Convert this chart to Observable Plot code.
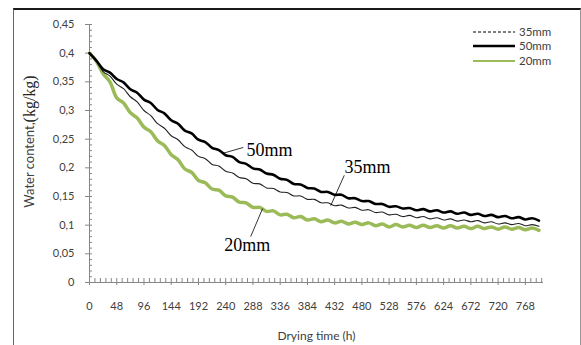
<!DOCTYPE html>
<html><head><meta charset="utf-8">
<script src="https://cdn.jsdelivr.net/npm/d3@7"></script>
<script src="https://cdn.jsdelivr.net/npm/@observablehq/plot@0.6"></script>
<style>
html,body{margin:0;padding:0;background:#fff;}
#wrap{position:relative;width:581px;height:345px;overflow:hidden;background:#fff;}
#frame{position:absolute;left:13px;top:8px;width:568px;height:360px;border-top:2px solid #1a1a1a;border-left:1px solid #666;border-right:1px solid #999;box-sizing:border-box;pointer-events:none;}
</style></head><body>
<div id="wrap"><div id="chart"></div><div id="frame"></div></div>
<script>
// Sampling times (h), every 12 h
const hours = d3.range(0, 793, 12);

// Water content (kg/kg) per thickness
const w50 = [.400,.387,.372,.366,.355,.349,.337,.331,.319,.313,.301,.295,.283,.277,.265,.260,.249,.245,.235,.231,.222,.219,.210,.207,.199,.197,.190,.188,.181,.179,.172,.171,.165,.164,.158,.158,.153,.153,.147,.147,.142,.142,.137,.137,.132,.133,.129,.130,.126,.128,.124,.126,.122,.124,.120,.122,.118,.120,.116,.118,.114,.116,.112,.114,.110,.112,.108];
const w35 = [.400,.387,.368,.360,.346,.338,.324,.315,.300,.291,.277,.269,.256,.249,.237,.231,.220,.216,.206,.203,.194,.191,.183,.181,.173,.172,.165,.164,.158,.157,.151,.151,.145,.145,.139,.139,.134,.135,.130,.131,.126,.127,.122,.123,.118,.119,.115,.117,.113,.115,.111,.113,.109,.111,.107,.109,.106,.108,.104,.106,.102,.104,.101,.103,.099,.101,.098];
const w20 = [.400,.386,.364,.350,.322,.313,.296,.287,.271,.263,.247,.239,.223,.214,.198,.192,.178,.174,.163,.161,.151,.149,.140,.139,.131,.131,.124,.125,.118,.119,.113,.115,.109,.111,.106,.109,.104,.107,.102,.105,.101,.104,.099,.102,.097,.101,.097,.100,.096,.100,.096,.099,.095,.099,.095,.098,.094,.098,.094,.097,.093,.097,.093,.096,.092,.095,.091];

// Axis ticks and labels
const xTicks = [0,48,96,144,192,240,288,336,384,432,480,528,576,624,672,720,768];
const yTicks = [0,0.05,0.1,0.15,0.2,0.25,0.3,0.35,0.4,0.45];
const xMinor = d3.range(0, 800, 9.6);
const yMinor = d3.range(0, 0.451, 0.01);

// Legend entries
const legendNames = ["35mm","50mm","20mm"];

// In-chart annotations (label centre positions in data units)
const annLabel = ["50mm","35mm","20mm"];
const annX = [317, 490, 278];
const annY = [0.230, 0.2006, 0.0645];
const leadX1 = [234, 425, 305], leadY1 = [0.225, 0.134, 0.129];
const leadX2 = [271, 449, 284], leadY2 = [0.2355, 0.187, 0.080];

const toRows = vals => hours.map((h, i) => ({h, v: vals[i]}));
const ann = annLabel.map((t, i) => ({t, x: annX[i], y: annY[i]}));
const leads = leadX1.map((x, i) => ({x1: x, y1: leadY1[i], x2: leadX2[i], y2: leadY2[i]}));

const green = "#9bbb59";
const axisCol = "#868686";
const fmtY = d => d === 0 ? "0" : String(d).replace(".", ",");

const chart = Plot.plot({
  width: 581, height: 345,
  marginLeft: 89, marginRight: 38, marginTop: 24, marginBottom: 63,
  x: {domain: [0, 800]},
  y: {domain: [0, 0.45]},
  style: {fontFamily: "Lato, sans-serif", fontSize: "11px", color: "#404040", background: "transparent"},
  marks: [
    Plot.ruleY([0], {stroke: axisCol}),
    Plot.ruleX([0], {stroke: axisCol}),
    Plot.axisY({ticks: yTicks, tickSize: 4, tickPadding: 11, tickFormat: fmtY, stroke: axisCol, label: null, fontSize: 11}),
    Plot.axisY({ticks: yMinor, tickSize: -3, text: null, stroke: axisCol, label: null}),
    Plot.axisX({ticks: xTicks, tickSize: 3, tickPadding: 17, tickFormat: d => String(d), stroke: axisCol, label: null, fontSize: 11}),
    Plot.axisX({ticks: xMinor, tickSize: -4, text: null, stroke: axisCol, label: null}),
    Plot.text(["Drying time (h)"], {frameAnchor: "bottom", dy: 57, fontSize: 12, fill: "#404040"}),
    Plot.line(toRows(w20), {x: "h", y: "v", stroke: green, strokeWidth: 3.5, curve: "catmull-rom"}),
    Plot.line(toRows(w35), {x: "h", y: "v", stroke: "#222", strokeWidth: 1.1, curve: "catmull-rom"}),
    Plot.line(toRows(w50), {x: "h", y: "v", stroke: "#000", strokeWidth: 2.6, curve: "catmull-rom"}),
    Plot.link(leads, {x1: "x1", y1: "y1", x2: "x2", y2: "y2", stroke: "#000", strokeWidth: 0.8}),
    Plot.text(ann, {x: "x", y: "y", text: "t", textAnchor: "middle", fontFamily: "Liberation Serif, serif", fontSize: 18, fill: "#000"})
  ]
});
document.getElementById("chart").appendChild(chart);

const svg = d3.select(chart);
// Y axis title with mixed fonts
const yt = svg.append("text")
  .attr("transform", "translate(31,141.5) rotate(-90)")
  .attr("text-anchor", "middle")
  .attr("dominant-baseline", "middle");
yt.append("tspan").attr("font-family", "Lato, sans-serif").attr("font-size", 13).attr("fill", "#404040").text("Water content,");
yt.append("tspan").attr("font-family", "Liberation Serif, serif").attr("font-size", 16).attr("fill", "#222").text("(kg/kg)");

// Legend
const legStyles = [
  {stroke: "#000", width: 1, dash: "3,2"},
  {stroke: "#000", width: 2.5, dash: null},
  {stroke: green, width: 2, dash: null}
];
const legY = [32, 46, 61];
const lg = svg.append("g").attr("text-anchor", "start");
legendNames.forEach((name, i) => {
  const s = legStyles[i];
  const ln = lg.append("line").attr("x1", 473).attr("x2", 515).attr("y1", legY[i]).attr("y2", legY[i])
    .attr("stroke", s.stroke).attr("stroke-width", s.width);
  if (s.dash) ln.attr("stroke-dasharray", s.dash);
  lg.append("text").attr("x", 519).attr("y", legY[i]).attr("dy", "0.35em").attr("text-anchor", "start")
    .attr("font-family", "Lato, sans-serif").attr("font-size", 11.5).attr("fill", "#404040").text(name);
});
</script>
</body></html>
